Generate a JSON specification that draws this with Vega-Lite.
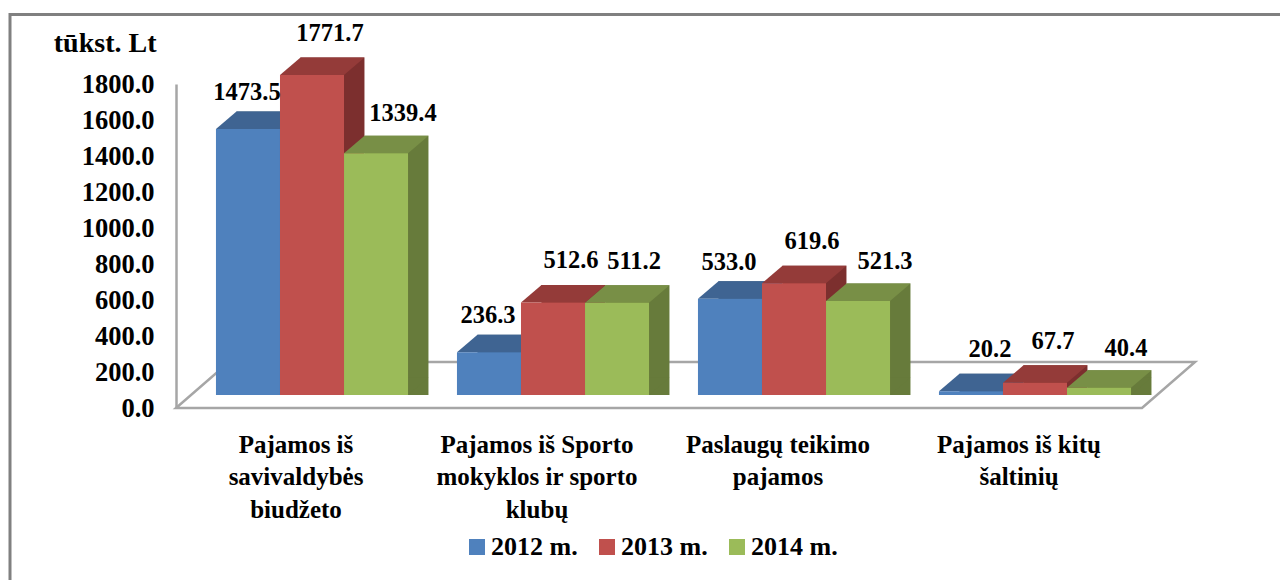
{"$schema":"https://vega.github.io/schema/vega-lite/v6.json","width":1280,"height":580,"padding":0,"autosize":"none","background":"white","config":{"view":{"stroke":null},"font":"Liberation Serif"},
"data":{"values":[
{"cat":"Pajamos iš savivaldybės biudžeto","year":"2012 m.","value":1473.5},
{"cat":"Pajamos iš savivaldybės biudžeto","year":"2013 m.","value":1771.7},
{"cat":"Pajamos iš savivaldybės biudžeto","year":"2014 m.","value":1339.4},
{"cat":"Pajamos iš Sporto mokyklos ir sporto klubų","year":"2012 m.","value":236.3},
{"cat":"Pajamos iš Sporto mokyklos ir sporto klubų","year":"2013 m.","value":512.6},
{"cat":"Pajamos iš Sporto mokyklos ir sporto klubų","year":"2014 m.","value":511.2},
{"cat":"Paslaugų teikimo pajamos","year":"2012 m.","value":533.0},
{"cat":"Paslaugų teikimo pajamos","year":"2013 m.","value":619.6},
{"cat":"Paslaugų teikimo pajamos","year":"2014 m.","value":521.3},
{"cat":"Pajamos iš kitų šaltinių","year":"2012 m.","value":20.2},
{"cat":"Pajamos iš kitų šaltinių","year":"2013 m.","value":67.7},
{"cat":"Pajamos iš kitų šaltinių","year":"2014 m.","value":40.4}]},
"encoding":{"x":{"field":"cat","type":"nominal","sort":null,"title":null,"scale":{"range":[191.5,1155.5],"paddingInner":0.203,"paddingOuter":0.1015},
"axis":{"orient":"bottom","offset":-172,"domain":false,"ticks":false,"labelAngle":0,"labelPadding":24,"labelOffset":-16,"labelFont":"Liberation Serif","labelFontWeight":"bold","labelFontSize":25,"labelColor":"#000","labelLineHeight":32.5,"labelLimit":400,"labelOverlap":false,"labelBaseline":"top",
"labelExpr":"datum.label=='Pajamos iš savivaldybės biudžeto'?['Pajamos iš','savivaldybės','biudžeto']:datum.label=='Pajamos iš Sporto mokyklos ir sporto klubų'?['Pajamos iš Sporto','mokyklos ir sporto','klubų']:datum.label=='Paslaugų teikimo pajamos'?['Paslaugų teikimo','pajamos']:['Pajamos iš kitų','šaltinių']"}}},
"resolve":{"scale":{"y":"independent","xOffset":"independent"}},
"layer":[
{"transform":[{"filter":"datum.value==1473.5"}],"mark":{"type":"point","size":4,"filled":false,"stroke":"#808080","strokeWidth":3,"opacity":1,"shape":"M-302,240V-380.5H1000"},"encoding":{"y":{"datum":0,"type":"quantitative","scale":{"domain":[0,1800],"range":[395,70]},"axis":null}}},
{"transform":[{"filter":"datum.value==1473.5"}],"mark":{"type":"point","size":4,"filled":true,"fill":"#ffffff","stroke":"#a6a6a6","strokeWidth":2.5,"opacity":1,"shape":"M-136,0L830,0L883,-46L-83,-46Z"},"encoding":{"y":{"datum":0,"type":"quantitative","scale":{"domain":[0,1800],"range":[408,84]},"axis":{"title":"tūkst. Lt","orient":"left","offset":-176,"values":[0,200,400,600,800,1000,1200,1400,1600,1800],"format":".1f","grid":false,"ticks":false,"domain":true,"domainColor":"#a6a6a6","domainWidth":2.5,"labelPadding":22,"labelFont":"Liberation Serif","labelFontWeight":"bold","labelFontSize":26.5,"labelColor":"#000","titleFont":"Liberation Serif","titleFontWeight":"bold","titleFontSize":28,"titleColor":"#000","titleAngle":0,"titleAlign":"right","titleBaseline":"middle","titleX":-20,"titleY":43}}}},

{"transform":[{"filter":"datum.year=='2012 m.'"}],"mark":{"type":"bar","color":"#355679","yOffset":-17.5},"encoding":{"xOffset":{"field":"year","scale":{"type":"band","domain":["2012 m.","2013 m.","2014 m."],"range":[20.5,212.5],"paddingInner":0,"paddingOuter":0}},"y":{"field":"value","type":"quantitative","stack":null,"scale":{"domain":[0,1800],"range":[395,70]},"axis":null}}},
{"transform":[{"filter":"datum.year=='2012 m.'"}],"mark":{"type":"point","size":4,"filled":true,"color":"#355679","opacity":1,"strokeWidth":0,"shape":"M32,0L52.5,-17.5L32,-17.5Z"},"encoding":{"xOffset":{"field":"year","scale":{"type":"band","domain":["2012 m.","2013 m.","2014 m."],"paddingInner":0,"paddingOuter":0}},"y":{"datum":0,"type":"quantitative","scale":{"domain":[0,1800],"range":[395,70]},"axis":null}}},
{"transform":[{"filter":"datum.year=='2012 m.'"}],"mark":{"type":"point","size":4,"filled":true,"color":"#3F6492","opacity":1,"strokeWidth":0,"shape":"M-32,0L-11.5,-17.5L52.5,-17.5L32,0Z"},"encoding":{"xOffset":{"field":"year","scale":{"type":"band","domain":["2012 m.","2013 m.","2014 m."],"paddingInner":0,"paddingOuter":0}},"y":{"field":"value","type":"quantitative","scale":{"domain":[0,1800],"range":[395,70]},"axis":null}}},
{"transform":[{"filter":"datum.year=='2012 m.'"}],"mark":{"type":"bar"},"encoding":{"xOffset":{"field":"year","scale":{"type":"band","domain":["2012 m.","2013 m.","2014 m."],"paddingInner":0,"paddingOuter":0}},"y":{"field":"value","type":"quantitative","stack":null,"scale":{"domain":[0,1800],"range":[395,70]},"axis":null},
"color":{"field":"year","type":"nominal","scale":{"domain":["2012 m.","2013 m.","2014 m."],"range":["#4F81BD","#C0504D","#9BBB59"]},"legend":{"orient":"none","legendX":464,"legendY":534,"direction":"horizontal","title":null,"symbolType":"square","symbolSize":256,"symbolStrokeWidth":0,"symbolOpacity":1,"labelFont":"Liberation Serif","labelFontWeight":"bold","labelFontSize":26,"labelColor":"#000","columnPadding":16,"labelOffset":1,"padding":0}}}},

{"transform":[{"filter":"datum.year=='2013 m.'"}],"mark":{"type":"bar","color":"#7C2F2E","yOffset":-17.5},"encoding":{"xOffset":{"field":"year","scale":{"type":"band","domain":["2012 m.","2013 m.","2014 m."],"range":[20.5,212.5],"paddingInner":0,"paddingOuter":0}},"y":{"field":"value","type":"quantitative","stack":null,"scale":{"domain":[0,1800],"range":[395,70]},"axis":null}}},
{"transform":[{"filter":"datum.year=='2013 m.'"}],"mark":{"type":"point","size":4,"filled":true,"color":"#7C2F2E","opacity":1,"strokeWidth":0,"shape":"M32,0L52.5,-17.5L32,-17.5Z"},"encoding":{"xOffset":{"field":"year","scale":{"type":"band","domain":["2012 m.","2013 m.","2014 m."],"paddingInner":0,"paddingOuter":0}},"y":{"datum":0,"type":"quantitative","scale":{"domain":[0,1800],"range":[395,70]},"axis":null}}},
{"transform":[{"filter":"datum.year=='2013 m.'"}],"mark":{"type":"point","size":4,"filled":true,"color":"#943B39","opacity":1,"strokeWidth":0,"shape":"M-32,0L-11.5,-17.5L52.5,-17.5L32,0Z"},"encoding":{"xOffset":{"field":"year","scale":{"type":"band","domain":["2012 m.","2013 m.","2014 m."],"paddingInner":0,"paddingOuter":0}},"y":{"field":"value","type":"quantitative","scale":{"domain":[0,1800],"range":[395,70]},"axis":null}}},
{"transform":[{"filter":"datum.year=='2013 m.'"}],"mark":{"type":"bar"},"encoding":{"xOffset":{"field":"year","scale":{"type":"band","domain":["2012 m.","2013 m.","2014 m."],"paddingInner":0,"paddingOuter":0}},"y":{"field":"value","type":"quantitative","stack":null,"scale":{"domain":[0,1800],"range":[395,70]},"axis":null},"color":{"field":"year","type":"nominal"}}},

{"transform":[{"filter":"datum.year=='2014 m.'"}],"mark":{"type":"bar","color":"#677B3B","yOffset":-17.5},"encoding":{"xOffset":{"field":"year","scale":{"type":"band","domain":["2012 m.","2013 m.","2014 m."],"range":[20.5,212.5],"paddingInner":0,"paddingOuter":0}},"y":{"field":"value","type":"quantitative","stack":null,"scale":{"domain":[0,1800],"range":[395,70]},"axis":null}}},
{"transform":[{"filter":"datum.year=='2014 m.'"}],"mark":{"type":"point","size":4,"filled":true,"color":"#677B3B","opacity":1,"strokeWidth":0,"shape":"M32,0L52.5,-17.5L32,-17.5Z"},"encoding":{"xOffset":{"field":"year","scale":{"type":"band","domain":["2012 m.","2013 m.","2014 m."],"paddingInner":0,"paddingOuter":0}},"y":{"datum":0,"type":"quantitative","scale":{"domain":[0,1800],"range":[395,70]},"axis":null}}},
{"transform":[{"filter":"datum.year=='2014 m.'"}],"mark":{"type":"point","size":4,"filled":true,"color":"#788F46","opacity":1,"strokeWidth":0,"shape":"M-32,0L-11.5,-17.5L52.5,-17.5L32,0Z"},"encoding":{"xOffset":{"field":"year","scale":{"type":"band","domain":["2012 m.","2013 m.","2014 m."],"paddingInner":0,"paddingOuter":0}},"y":{"field":"value","type":"quantitative","scale":{"domain":[0,1800],"range":[395,70]},"axis":null}}},
{"transform":[{"filter":"datum.year=='2014 m.'"}],"mark":{"type":"bar"},"encoding":{"xOffset":{"field":"year","scale":{"type":"band","domain":["2012 m.","2013 m.","2014 m."],"paddingInner":0,"paddingOuter":0}},"y":{"field":"value","type":"quantitative","stack":null,"scale":{"domain":[0,1800],"range":[395,70]},"axis":null},"color":{"field":"year","type":"nominal"}}},

{"transform":[{"filter":"datum.year=='2012 m.' && datum.value!=20.2"}],"mark":{"type":"text","font":"Liberation Serif","fontWeight":"bold","fontSize":24.5,"color":"#000","dx":-1,"dy":-36},"encoding":{"xOffset":{"field":"year","scale":{"type":"band","domain":["2012 m.","2013 m.","2014 m."],"paddingInner":0,"paddingOuter":0}},"y":{"field":"value","type":"quantitative","scale":{"domain":[0,1800],"range":[395,70]},"axis":null},"text":{"field":"value","type":"quantitative","format":".1f"}}},
{"transform":[{"filter":"datum.value==20.2"}],"mark":{"type":"text","font":"Liberation Serif","fontWeight":"bold","fontSize":24.5,"color":"#000","dx":19,"dy":-41},"encoding":{"xOffset":{"field":"year","scale":{"type":"band","domain":["2012 m.","2013 m.","2014 m."],"paddingInner":0,"paddingOuter":0}},"y":{"field":"value","type":"quantitative","scale":{"domain":[0,1800],"range":[395,70]},"axis":null},"text":{"field":"value","type":"quantitative","format":".1f"}}},
{"transform":[{"filter":"datum.year=='2013 m.'"}],"mark":{"type":"text","font":"Liberation Serif","fontWeight":"bold","fontSize":24.5,"color":"#000","dx":18,"dy":-41},"encoding":{"xOffset":{"field":"year","scale":{"type":"band","domain":["2012 m.","2013 m.","2014 m."],"paddingInner":0,"paddingOuter":0}},"y":{"field":"value","type":"quantitative","scale":{"domain":[0,1800],"range":[395,70]},"axis":null},"text":{"field":"value","type":"quantitative","format":".1f"}}},
{"transform":[{"filter":"datum.year=='2014 m.' && datum.value!=511.2"}],"mark":{"type":"text","font":"Liberation Serif","fontWeight":"bold","fontSize":24.5,"color":"#000","dx":27,"dy":-39},"encoding":{"xOffset":{"field":"year","scale":{"type":"band","domain":["2012 m.","2013 m.","2014 m."],"paddingInner":0,"paddingOuter":0}},"y":{"field":"value","type":"quantitative","scale":{"domain":[0,1800],"range":[395,70]},"axis":null},"text":{"field":"value","type":"quantitative","format":".1f"}}},
{"transform":[{"filter":"datum.value==511.2"}],"mark":{"type":"text","font":"Liberation Serif","fontWeight":"bold","fontSize":24.5,"color":"#000","dx":17,"dy":-41},"encoding":{"xOffset":{"field":"year","scale":{"type":"band","domain":["2012 m.","2013 m.","2014 m."],"paddingInner":0,"paddingOuter":0}},"y":{"field":"value","type":"quantitative","scale":{"domain":[0,1800],"range":[395,70]},"axis":null},"text":{"field":"value","type":"quantitative","format":".1f"}}}
]}
